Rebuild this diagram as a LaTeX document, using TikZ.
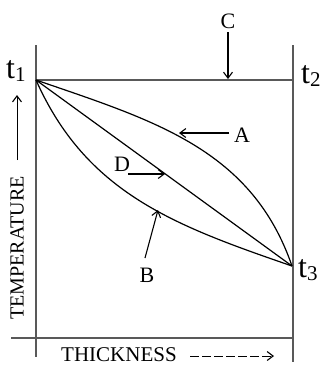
\documentclass[tikz,border=0pt]{standalone}
\usepackage{fontspec}
\setmainfont{Liberation Serif}
\usetikzlibrary{arrows.meta}
\tikzset{
  frame/.style={line width=1.6pt, draw=black!65},
  curve/.style={line width=1.2pt, draw=black},
  pointer/.style={line width=1.1pt, draw=black, -{Straight Barb[length=6pt,width=9pt,line width=1.1pt]}},
  lbl/.style={font=\fontsize{22}{26}\selectfont, inner sep=0pt},
  tlbl/.style={font=\fontsize{32}{36}\selectfont, inner sep=0pt, anchor=base west},
  axis/.style={font=\fontsize{20}{24}\selectfont, inner sep=0pt}
}
\newcommand{\tsub}[1]{t\raisebox{-3pt}{\fontsize{21}{23}\selectfont #1}}
\begin{document}
\begin{tikzpicture}[x=1pt,y=-1pt]
\useasboundingbox (0,0) rectangle (327,365);
% frame coordinates
\coordinate (ltop) at (36,45);
\coordinate (lbot) at (36,357);
\coordinate (rtop) at (293,45);
\coordinate (rbot) at (293,362);
\coordinate (tl) at (36,80);
\coordinate (tr) at (293,80);
\coordinate (bl) at (11,338);
\coordinate (br) at (293,338);
\coordinate (p1) at (36,80);
\coordinate (p3) at (292,266);
% frame
\draw[frame] (ltop) -- (lbot);
\draw[frame] (rtop) -- (rbot);
\draw[frame] (tl) -- (tr);
\draw[frame] (bl) -- (br);
% curves
\draw[curve] (p1) .. controls (153.2,120.4) and (251.6,148.8) .. (p3);
\draw[curve] (p1) -- (p3);
\draw[curve] (p1) .. controls (86.4,193.3) and (174.8,225.6) .. (p3);
% t labels
\node[tlbl] (t1) at (6,78) {\tsub{1}};
\node[tlbl] (t2) at (301,83) {\tsub{2}};
\node[tlbl] (t3) at (298,277) {\tsub{3}};
% letter labels
\node[lbl, anchor=base] (C) at (228,28) {C};
\node[lbl, anchor=base] (A) at (242,142) {A};
\node[lbl, anchor=base] (D) at (122,171) {D};
\node[lbl, anchor=base] (B) at (147,282) {B};
% pointer ends
\coordinate (cS) at (228,32);
\coordinate (cE) at (228,79);
\coordinate (aS) at (229,133);
\coordinate (aE) at (179,133);
\coordinate (dS) at (128,174);
\coordinate (dE) at (165,174);
\coordinate (bS) at (145,258);
\coordinate (bE) at (158,210);
\draw[pointer] (cS) -- (cE);
\draw[pointer] (aS) -- (aE);
\draw[pointer] (dS) -- (dE);
\draw[pointer] (bS) -- (bE);
% axis labels
\node[axis, rotate=90] (temp) at (17,248) {TEMPERATURE};
\coordinate (tuS) at (17,160);
\coordinate (tuE) at (17,95);
\draw[pointer, line width=1pt] (tuS) -- (tuE);
\node[axis, font=\fontsize{21}{24}\selectfont, anchor=base] (thick) at (119,361) {THICKNESS};
\coordinate (thS) at (190,356);
\coordinate (thE) at (274,356);
\draw[pointer, line width=1pt, dash pattern=on 9pt off 3pt] (thS) -- (thE);
\end{tikzpicture}
\end{document}
